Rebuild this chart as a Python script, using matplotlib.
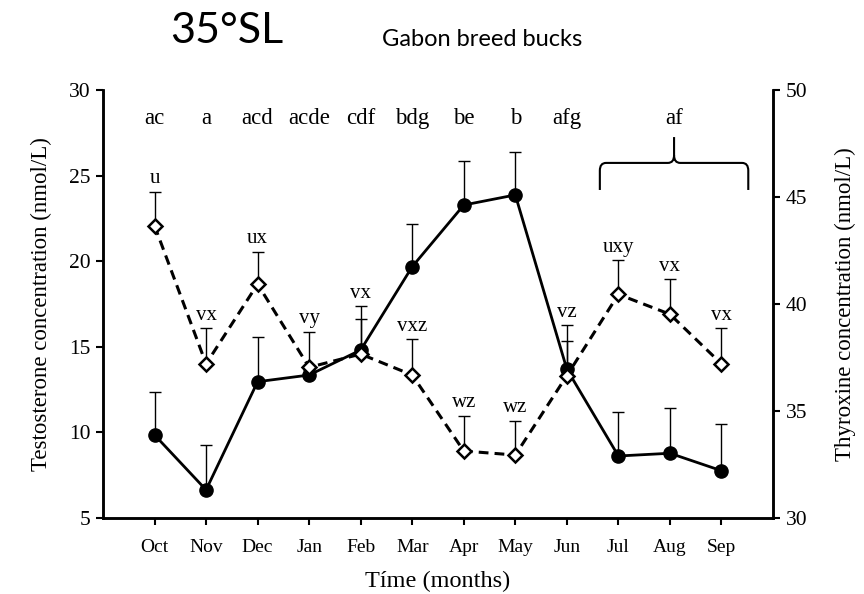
import numpy as np
import matplotlib
matplotlib.use('Agg')
import matplotlib.pyplot as plt
from matplotlib.path import Path
from matplotlib.patches import PathPatch

plt.rcParams['font.family'] = ['Liberation Serif', 'DejaVu Serif']

months = ['Oct', 'Nov', 'Dec', 'Jan', 'Feb', 'Mar', 'Apr', 'May', 'Jun', 'Jul', 'Aug', 'Sep']

# testosterone (left axis), mean and upper SEM
testo = [9.85, 6.64, 12.96, 13.35, 14.81, 19.68, 23.28, 23.87, 13.69, 8.62, 8.78, 7.76]
testo_err = [2.51, 2.62, 2.59, 0.3, 1.79, 2.49, 2.57, 2.53, 1.65, 2.55, 2.63, 2.73]
testo_letters = ['ac', 'a', 'acd', 'acde', 'cdf', 'bdg', 'be', 'b', 'afg']
group_letter = 'af'   # Jul - Sep

# thyroxine (right axis)
thyro = [43.66, 37.2, 40.93, 37.04, 37.66, 36.68, 33.13, 32.94, 36.65, 40.45, 39.52, 37.2]
thyro_err = [1.59, 1.66, 1.51, 1.67, 2.25, 1.68, 1.65, 1.61, 2.37, 1.61, 1.63, 1.66]
thyro_letters = ['u', 'vx', 'ux', 'vy', 'vx', 'vxz', 'wz', 'wz', 'vz', 'uxy', 'vx', 'vx']

x = np.arange(len(months))

fig = plt.figure(figsize=(8.64, 5.94), dpi=100)
ax = fig.add_axes([0.1192, 0.128, 0.7755, 0.7205])
ax2 = ax.twinx()

# testosterone
ax.errorbar(x, testo, yerr=[np.zeros(len(x)), testo_err], fmt='none',
            ecolor='black', elinewidth=1.0, capsize=4.5, capthick=1.0)
ax.plot(x, testo, color='black', lw=2.0, marker='o', ms=9.5,
        mfc='black', mec='black', zorder=3)

# thyroxine
ax2.errorbar(x, thyro, yerr=[np.zeros(len(x)), thyro_err], fmt='none',
             ecolor='black', elinewidth=1.0, capsize=4.5, capthick=1.0)
ax2.plot(x, thyro, color='black', lw=2.2, ls=(0, (3.2, 2)), marker='D', ms=7,
         mfc='white', mec='black', mew=1.8, zorder=3)

for xi, val, err, lab in zip(x, thyro, thyro_err, thyro_letters):
    ax2.annotate(lab, (xi, val + err), xytext=(0, 6), textcoords='offset points',
                 ha='center', va='baseline', fontsize=15)

for xi, lab in zip(x, testo_letters):
    ax.text(xi, 28.0, lab, ha='center', va='baseline', fontsize=16.5)

# brace over Jul-Sep
x0, x1, xm = 9 - 0.36, 11 + 0.52, 10.08
ylow, yh, ytop = 24.16, 25.74, 27.25
rx, ry = 0.12, 0.45
verts = [(x0, ylow), (x0, yh - ry), (x0, yh), (x0 + rx, yh),
         (xm - rx, yh), (xm, yh), (xm, yh + ry), (xm, ytop),
         (xm, yh + ry), (xm, yh), (xm + rx, yh),
         (x1 - rx, yh), (x1, yh), (x1, yh - ry), (x1, ylow)]
codes = [Path.MOVETO, Path.LINETO, Path.CURVE3, Path.CURVE3,
         Path.LINETO, Path.CURVE3, Path.CURVE3, Path.LINETO,
         Path.MOVETO, Path.CURVE3, Path.CURVE3,
         Path.LINETO, Path.CURVE3, Path.CURVE3, Path.LINETO]
ax.add_patch(PathPatch(Path(verts, codes), fill=False, lw=1.5, ec='black'))
ax.text(xm, 28.0, group_letter, ha='center', va='baseline', fontsize=16.5)

ax.set_xlim(-1, 12)
ax.set_ylim(5, 30)
ax2.set_ylim(30, 50)
ax.set_xticks(x)
ax.set_xticklabels(months, fontsize=14)
ax.set_yticks(np.arange(5, 31, 5))
ax2.set_yticks(np.arange(30, 51, 5))
ax.tick_params(axis='y', direction='out', length=5, width=1.5, labelsize=15.5, pad=4)
ax.tick_params(axis='x', direction='out', length=5, width=1.5, pad=10)
ax2.tick_params(axis='y', direction='out', length=5, width=1.5, labelsize=15.5, pad=4)

for a in (ax, ax2):
    a.spines['top'].set_visible(False)
    for s in ('left', 'right', 'bottom'):
        a.spines[s].set_linewidth(1.8)

ax.set_xlabel('Tíme (months)', fontsize=17.5, labelpad=11)
ax.set_ylabel('Testosterone concentration (nmol/L)', fontsize=16.5, labelpad=12)
ax2.set_ylabel('Thyroxine concentration (nmol/L)', fontsize=16.5, labelpad=20)

fig.text(0.262, 0.928, '35°SL', family='Lato', fontsize=31, ha='center', va='baseline')
fig.text(0.442, 0.923, 'Gabon breed bucks', family='Lato', fontsize=17, ha='left', va='baseline')

fig.savefig('out.png', dpi=100)
